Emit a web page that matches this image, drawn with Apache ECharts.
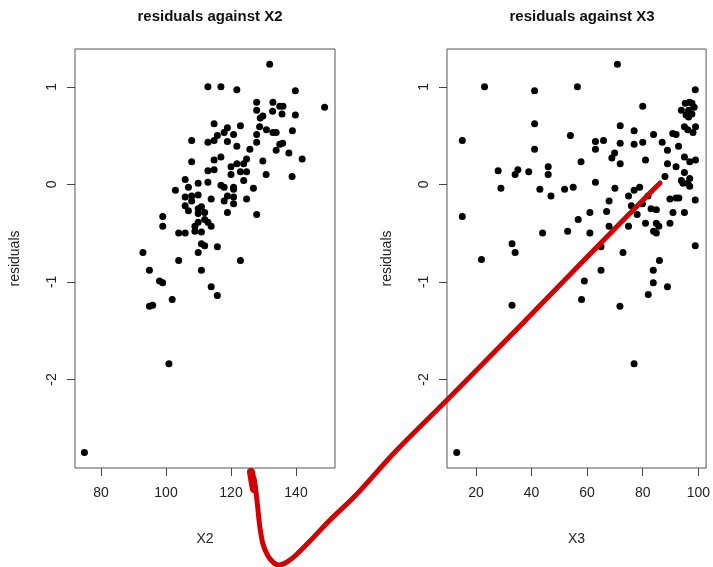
<!DOCTYPE html>
<html>
<head>
<meta charset="utf-8">
<script src="https://cdn.jsdelivr.net/npm/echarts@6/dist/echarts.min.js"></script>
<style>
  html, body { margin: 0; padding: 0; background: #fff; }
  #chart { width: 713px; height: 567px; }
</style>
</head>
<body>
<div id="chart"></div>
<script>
// ---- data ----
const titles = ['residuals against X2', 'residuals against X3'];
const xNames = ['X2', 'X3'];
const yName = 'residuals';
const x2Ticks = [80, 100, 120, 140];
const x3Ticks = [20, 40, 60, 80, 100];
const residTicks = [-2, -1, 0, 1];

// [X2, residual]
const x2Points = [
  [131.9,1.23],[112.9,1.00],[116.9,1.00],[121.8,0.97],[139.8,0.96],[148.8,0.79],
  [127.9,0.84],[132.9,0.84],[127.9,0.76],[132.8,0.75],[135.0,0.80],[136.0,0.80],
  [135.7,0.72],[139.8,0.71],[129.0,0.68],[129.8,0.70],[128.8,0.59],[130.9,0.56],
  [132.9,0.53],[133.9,0.53],[138.9,0.55],[114.8,0.62],[118.9,0.58],[122.9,0.60],
  [117.9,0.53],[115.8,0.50],[120.8,0.51],[107.9,0.45],[112.9,0.43],[114.8,0.45],
  [118.9,0.44],[127.9,0.43],[135.0,0.41],[135.9,0.42],[133.9,0.35],[137.8,0.32],
  [141.9,0.26],[121.8,0.39],[125.8,0.36],[129.8,0.24],[130.8,0.10],[138.8,0.08],
  [107.9,0.23],[116.9,0.28],[114.8,0.25],[112.9,0.14],[114.8,0.15],[120.0,0.18],
  [121.8,0.21],[123.9,0.21],[124.8,0.26],[120.0,0.10],[122.9,0.13],[124.8,0.13],
  [123.9,0.04],[105.9,0.05],[109.9,0.01],[112.9,0.02],[102.9,-0.06],[106.9,-0.03],
  [116.9,-0.01],[117.9,-0.03],[120.8,-0.03],[120.8,-0.05],[126.9,-0.04],[105.9,-0.13],
  [107.9,-0.12],[109.9,-0.11],[113.9,-0.15],[118.9,-0.12],[117.9,-0.17],[120.8,-0.13],
  [120.8,-0.20],[124.8,-0.15],[105.9,-0.22],[106.9,-0.27],[107.9,-0.17],[109.9,-0.25],
  [110.9,-0.23],[111.9,-0.29],[109.9,-0.30],[118.9,-0.29],[127.9,-0.31],[99.0,-0.33],
  [99.0,-0.43],[111.9,-0.36],[112.9,-0.39],[113.9,-0.43],[109.9,-0.39],[108.9,-0.43],
  [103.9,-0.50],[105.9,-0.50],[108.9,-0.48],[110.9,-0.49],[110.9,-0.61],[111.9,-0.63],
  [115.8,-0.64],[92.9,-0.70],[109.9,-0.70],[103.9,-0.78],[122.9,-0.78],[94.9,-0.88],
  [110.9,-0.88],[98.0,-0.99],[99.0,-1.01],[113.9,-1.05],[115.8,-1.14],[101.9,-1.18],
  [94.9,-1.25],[95.9,-1.24],[100.9,-1.84],[74.9,-2.75],[127.9,0.51]
];

// [X3, residual]
const x3Points = [
  [23.1,1.00],[41.1,0.96],[56.5,1.00],[41.1,0.62],[15.1,0.45],[41.1,0.36],[54.0,0.50],
  [28.0,0.14],[34.1,0.10],[35.1,0.15],[39.0,0.13],[46.0,0.18],[46.0,0.10],[29.0,-0.04],
  [43.0,-0.05],[47.0,-0.12],[51.9,-0.05],[55.0,-0.03],[15.1,-0.33],[44.0,-0.50],
  [53.0,-0.48],[56.8,-0.36],[33.0,-0.61],[34.1,-0.70],[22.0,-0.77],[70.9,1.23],
  [80.0,0.80],[98.9,0.97],[71.9,0.60],[76.9,0.55],[63.0,0.44],[65.9,0.45],[63.0,0.36],
  [71.9,0.42],[76.9,0.41],[80.0,0.43],[83.9,0.51],[69.9,0.32],[68.9,0.27],[71.9,0.21],
  [81.0,0.25],[57.8,0.23],[87.0,0.43],[88.9,0.35],[90.8,0.52],[92.0,0.51],[92.9,0.39],
  [88.9,0.21],[92.0,0.18],[95.0,0.28],[95.0,0.12],[88.0,0.08],[63.0,0.02],[70.0,-0.04],
  [74.9,-0.12],[76.9,-0.06],[78.9,-0.03],[81.9,-0.12],[67.9,-0.17],[75.9,-0.22],
  [79.9,-0.20],[61.0,-0.29],[67.0,-0.28],[78.0,-0.31],[83.0,-0.25],[84.9,-0.26],
  [89.8,-0.15],[92.0,-0.14],[93.0,-0.14],[90.9,-0.29],[95.0,-0.29],[98.9,-0.16],
  [67.9,-0.43],[74.9,-0.43],[81.0,-0.40],[84.9,-0.40],[85.8,-0.43],[89.8,-0.40],
  [83.9,-0.48],[84.9,-0.50],[61.0,-0.50],[98.9,-0.63],[65.0,-0.64],[72.9,-0.70],
  [86.0,-0.78],[83.8,-0.88],[65.0,-0.88],[59.0,-0.99],[83.8,-1.01],[88.9,-1.05],
  [82.0,-1.13],[58.0,-1.18],[33.0,-1.24],[71.8,-1.25],[76.9,-1.84],[13.1,-2.75],
  [95.3,0.83],[96.8,0.84],[97.7,0.83],[93.9,0.76],[96.5,0.76],[97.7,0.72],[95.6,0.71],
  [96.5,0.69],[98.5,0.79],[95.0,0.59],[96.2,0.56],[99.0,0.59],[98.1,0.53],[96.9,0.23],
  [99.0,0.25],[93.9,0.04],[96.9,0.06],[94.5,0.01],[96.2,0.01],[96.9,-0.02]
];

// hand-drawn red annotation, in page-overlay units (0..713 x 0..567)
const redBlob = [[251,472],[252,478],[253,484],[254,489]];
const redStroke = [
  [254,478],[256,492],[258,510],[260,528],[263,544],[268,556],[274,563],[279,565],
  [287,562],[296,555],[310,541],[330,520],[355,496],[395,452],[450,397],[520,326],
  [590,254],[643,200],[660,183]
];

// ---- chart ----
const FONT = "'Liberation Sans', Arial, Helvetica, sans-serif";
const chart = echarts.init(document.getElementById('chart'), null, { renderer: 'canvas' });

const gridTop = 49, gridH = 419;
function xAxisFor(idx, min, max, ticks, name) {
  return {
    type: 'value', gridIndex: idx, min: min, max: max, position: 'bottom',
    name: name, nameLocation: 'middle', nameGap: 64,
    nameTextStyle: { fontFamily: FONT, fontSize: 14, color: '#222' },
    axisLine: { show: false, onZero: false },
    splitLine: { show: false },
    axisTick: { show: true, length: 8, customValues: ticks, lineStyle: { color: '#444', width: 1 } },
    axisLabel: { show: true, margin: 18, customValues: ticks, fontFamily: FONT, fontSize: 14, color: '#222' }
  };
}
function yAxisFor(idx) {
  return {
    type: 'value', gridIndex: idx, min: -2.908, max: 1.387, position: 'left',
    name: yName, nameLocation: 'middle', nameGap: 53, nameRotate: 90,
    nameTextStyle: { fontFamily: FONT, fontSize: 14, color: '#222' },
    axisLine: { show: false, onZero: false },
    splitLine: { show: false },
    axisTick: { show: true, length: 8, customValues: residTicks, lineStyle: { color: '#444', width: 1 } },
    axisLabel: { show: true, margin: 16, rotate: 90, customValues: residTicks, fontFamily: FONT, fontSize: 14, color: '#222' }
  };
}

const option = {
  backgroundColor: '#fff',
  animation: false,
  title: [
    { text: titles[0], left: 205, top: 4, textAlign: 'center',
      textStyle: { fontFamily: FONT, fontSize: 15, fontWeight: 'bold', color: '#111' } },
    { text: titles[1], left: 577, top: 4, textAlign: 'center',
      textStyle: { fontFamily: FONT, fontSize: 15, fontWeight: 'bold', color: '#111' } }
  ],
  grid: [
    { left: 75, top: gridTop, width: 260, height: gridH, show: true, borderColor: '#555', borderWidth: 1, backgroundColor: 'transparent' },
    { left: 447, top: gridTop, width: 260, height: gridH, show: true, borderColor: '#555', borderWidth: 1, backgroundColor: 'transparent' },
    { left: 0, top: 0, width: 713, height: 567, show: false }
  ],
  xAxis: [
    xAxisFor(0, 72, 152, x2Ticks, xNames[0]),
    xAxisFor(1, 9.6, 102.8, x3Ticks, xNames[1]),
    { type: 'value', gridIndex: 2, min: 0, max: 713, show: false }
  ],
  yAxis: [
    yAxisFor(0),
    yAxisFor(1),
    { type: 'value', gridIndex: 2, min: 0, max: 567, inverse: true, show: false }
  ],
  series: [
    { type: 'scatter', xAxisIndex: 0, yAxisIndex: 0, data: x2Points, symbol: 'circle', symbolSize: 7,
      itemStyle: { color: '#000', opacity: 1 }, silent: true },
    { type: 'scatter', xAxisIndex: 1, yAxisIndex: 1, data: x3Points, symbol: 'circle', symbolSize: 7,
      itemStyle: { color: '#000', opacity: 1 }, silent: true },
    { type: 'line', xAxisIndex: 2, yAxisIndex: 2, data: redStroke, smooth: 0.3, showSymbol: false, z: 10,
      lineStyle: { color: '#d20000', width: 5, cap: 'round', join: 'round' }, silent: true },
    { type: 'line', xAxisIndex: 2, yAxisIndex: 2, data: redBlob, showSymbol: false, z: 10,
      lineStyle: { color: '#d20000', width: 8, cap: 'round', join: 'round' }, silent: true }
  ]
};
chart.setOption(option);
</script>
</body>
</html>
